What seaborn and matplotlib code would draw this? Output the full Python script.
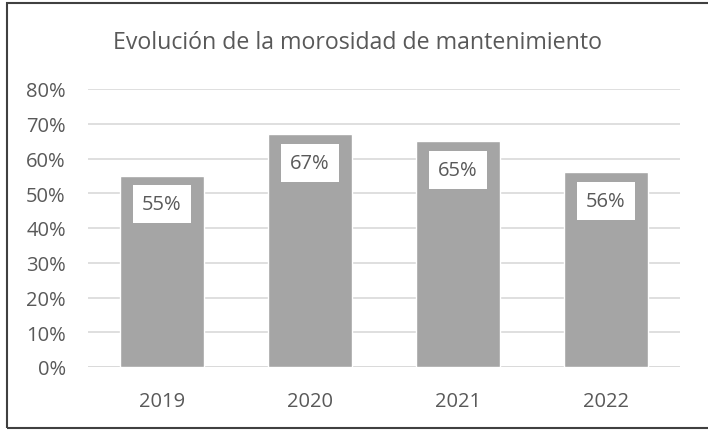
import matplotlib
matplotlib.use('Agg')
import matplotlib.pyplot as plt
import seaborn as sns
import pandas as pd
from matplotlib.patches import Rectangle
from matplotlib.ticker import PercentFormatter

years = ['2019', '2020', '2021', '2022']
morosidad = [55, 67, 65, 56]
title = 'Evolución de la morosidad de mantenimiento'

sns.set_theme(style='white')
plt.rcParams['font.family'] = ['Open Sans', 'DejaVu Sans']
text_col = '#595959'

df = pd.DataFrame({'year': years, 'value': morosidad})

fig = plt.figure(figsize=(7.08, 4.31), dpi=100)
ax = fig.add_axes([88 / 708, 1 - 368 / 431, 592 / 708, 278 / 431])

sns.barplot(data=df, x='year', y='value', color='#A5A5A5', saturation=1,
            width=0.567, ax=ax, zorder=3)

ax.set_ylim(0, 80)
ax.set_yticks(range(0, 81, 10))
ax.yaxis.set_major_formatter(PercentFormatter(decimals=0))
ax.grid(axis='y', color='#D9D9D9', linewidth=1.2, zorder=0)
ax.set_axisbelow(True)
for s in ax.spines.values():
    s.set_visible(False)
ax.axhline(0, color='#D9D9D9', linewidth=1.2, zorder=1)
ax.set_xlabel('')
ax.set_ylabel('')
ax.tick_params(axis='y', labelsize=14.5, colors=text_col, pad=16, length=0)
ax.tick_params(axis='x', labelsize=14.5, colors=text_col, pad=17, length=0)

for i, v in enumerate(morosidad):
    ax.annotate(f'{v}%', xy=(i, v), xytext=(0, -20.5), textcoords='offset points',
                ha='center', va='center', fontsize=14.5, color=text_col, zorder=5,
                bbox=dict(boxstyle='square,pad=0.45', fc='white', ec='none'))

fig.text(358 / 708, 1 - 43 / 431, title, ha='center', va='center',
         fontsize=16.7, color=text_col)

fig.patches.append(Rectangle((7 / 708, 2 / 431), 1.05, 425 / 431,
                             transform=fig.transFigure, fill=False,
                             edgecolor='#404040', linewidth=1.5, figure=fig))

fig.savefig('out.png', dpi=100)
